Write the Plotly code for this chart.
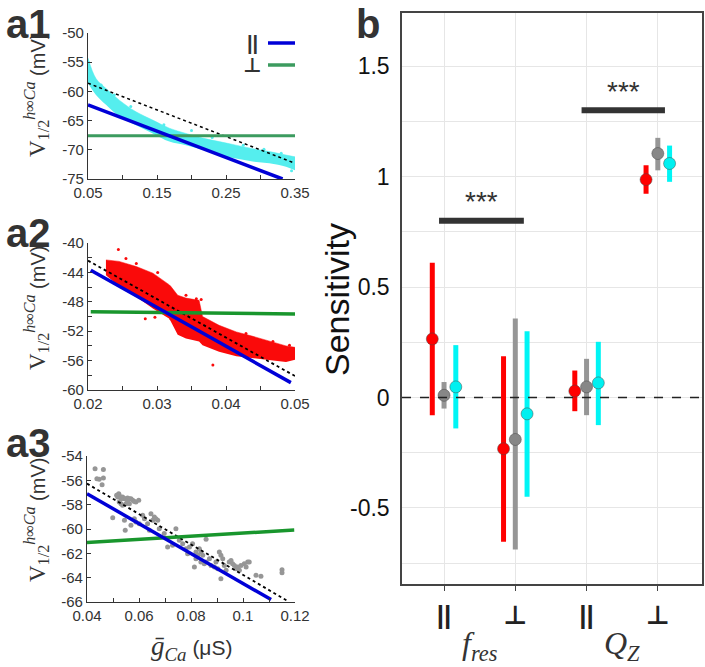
import plotly.graph_objects as go

W, H = 705, 667
def px(x): return x / W
def py(y): return 1 - y / H

# ================= DATA =================
# ---- a1 : cyan cloud (band envelope) ----
a1_band_x  = [0.05, 0.0616, 0.0761, 0.0954, 0.1196, 0.1437, 0.1679, 0.1920, 0.2162, 0.2403, 0.2645, 0.2886, 0.3128, 0.3370, 0.35]
a1_band_hi = [-54.3, -57.8, -59.5, -61.5, -63.5, -64.9, -66.3, -67.2, -68.0, -68.6, -69.2, -69.8, -70.3, -70.9, -71.2]
a1_band_lo = [-58.6, -60.6, -62.3, -64.3, -65.8, -67.2, -68.6, -69.2, -70.0, -70.9, -71.5, -72.0, -72.3, -72.9, -73.5]
a1_out_x = [0.0505, 0.0540, 0.0690, 0.0880, 0.1120, 0.1600, 0.2000, 0.2300, 0.2750, 0.3050, 0.3300, 0.3450]
a1_out_y = [-55.0, -57.6, -58.9, -60.6, -62.6, -65.7, -66.7, -67.9, -69.2, -69.9, -70.6, -73.6]
a1_par_x,  a1_par_y  = [0.05, 0.332], [-62.3, -75.0]
a1_perp_x, a1_perp_y = [0.05, 0.35], [-67.6, -67.6]
a1_ref_x,  a1_ref_y  = [0.05, 0.35], [-58.6, -72.3]

# ---- a2 : red cloud ----
a2_band_x  = [0.0226, 0.0245, 0.0270, 0.0294, 0.0318, 0.0320, 0.0330, 0.0342, 0.0361, 0.0366, 0.0390, 0.0415, 0.0439, 0.0463, 0.0487, 0.0500]
a2_band_hi = [-42.3, -42.5, -43.2, -44.1, -45.7, -45.9, -47.1, -47.5, -47.8, -50.0, -51.2, -52.1, -52.7, -53.4, -54.0, -54.2]
a2_band_lo = [-44.4, -45.9, -47.3, -48.9, -50.3, -50.7, -52.5, -53.0, -53.4, -53.9, -54.8, -55.4, -55.7, -56.0, -56.2, -55.9]
a2_out_x = [0.0244, 0.0255, 0.0270, 0.0283, 0.0297, 0.0301, 0.0320, 0.0342, 0.0357, 0.0364, 0.0381, 0.0429, 0.0468, 0.0492, 0.0233]
a2_out_y = [-40.9, -42.1, -42.8, -50.3, -50.1, -44.0, -50.3, -47.1, -47.6, -47.7, -56.6, -52.3, -53.4, -53.9, -43.0]
a2_par_x,  a2_par_y  = [0.0204, 0.0494], [-43.7, -59.0]
a2_perp_x, a2_perp_y = [0.0204, 0.05], [-49.35, -49.65]
a2_ref_x,  a2_ref_y  = [0.02, 0.05], [-42.4, -58.1]

# ---- a3 : gray points ----
a3_x = [0.0431, 0.0438, 0.0447, 0.0463, 0.0463, 0.0458, 0.0522, 0.0524, 0.0531, 0.0537,
        0.0544, 0.0550, 0.0556, 0.0563, 0.0569, 0.0576, 0.0582, 0.0588, 0.0599, 0.0531,
        0.0537, 0.0550, 0.0556, 0.0563, 0.0524, 0.0518, 0.0514, 0.0499, 0.0544, 0.0547,
        0.0569, 0.0582, 0.0588, 0.0601, 0.0614, 0.0621, 0.0633, 0.0646, 0.0653, 0.0659,
        0.0665, 0.0672, 0.0678, 0.0640, 0.0697, 0.0710, 0.0729, 0.0742, 0.0755, 0.0768,
        0.0781, 0.0787, 0.0794, 0.0806, 0.0819, 0.0826, 0.0832, 0.0838, 0.0845, 0.0858,
        0.0851, 0.0819, 0.0813, 0.0838, 0.0858, 0.0871, 0.0877, 0.0890, 0.0896, 0.0903,
        0.0909, 0.0915, 0.0922, 0.0915, 0.0928, 0.0935, 0.0947, 0.0954, 0.0960, 0.0967,
        0.0973, 0.0979, 0.0986, 0.0992, 0.1005, 0.1012, 0.1018, 0.1024, 0.1050, 0.1069,
        0.1150, 0.1150]
a3_y = [-55.04, -55.86, -55.92, -55.10, -55.81, -56.36, -57.10, -57.23, -57.51, -57.37,
        -57.51, -57.51, -57.45, -57.51, -57.51, -57.64, -57.73, -57.78, -57.64, -57.92,
        -58.05, -57.92, -57.78, -57.92, -57.78, -57.37, -57.23, -59.07, -59.29, -60.11,
        -59.70, -59.15, -59.42, -59.56, -58.88, -59.15, -59.56, -58.74, -59.29, -59.01,
        -59.15, -59.29, -59.97, -60.11, -60.38, -61.48, -61.34, -59.97, -60.93, -61.21,
        -61.62, -62.03, -61.48, -61.21, -61.89, -62.16, -61.62, -61.89, -62.16, -60.85,
        -62.85, -62.44, -63.12, -62.71, -62.71, -62.44, -62.99, -63.12, -62.71, -63.26,
        -61.89, -62.16, -62.44, -64.08, -62.99, -63.40, -62.71, -62.58, -62.85, -62.99,
        -63.26, -63.12, -63.40, -62.99, -62.85, -63.12, -62.71, -62.71, -63.81, -63.89,
        -63.34, -63.59]
a3_par_x,  a3_par_y  = [0.04, 0.1108], [-57.1, -65.8]
a3_perp_x, a3_perp_y = [0.04, 0.1197], [-61.1, -60.08]
a3_ref_x,  a3_ref_y  = [0.04, 0.1172], [-56.27, -65.92]

# ---- tick labels ----
a1_xticks = [0.05, 0.10, 0.15, 0.20, 0.25, 0.30, 0.35]
a1_xlabels = ['0.05', '', '0.15', '', '0.25', '', '0.35']
a1_yticks = [-75, -70, -65, -60, -55, -50]
a1_ylabels = ['-75', '-70', '-65', '-60', '-55', '-50']
a2_xticks = [0.02, 0.025, 0.03, 0.035, 0.04, 0.045, 0.05]
a2_xlabels = ['0.02', '', '0.03', '', '0.04', '', '0.05']
a2_yticks = [-60, -58, -56, -54, -52, -50, -48, -46, -44, -42, -40]
a2_ylabels = ['-60', '', '-56', '', '-52', '', '-48', '', '-44', '', '-40']
a3_xticks = [0.04, 0.05, 0.06, 0.07, 0.08, 0.09, 0.10, 0.11, 0.12]
a3_xlabels = ['0.04', '', '0.06', '', '0.08', '', '0.1', '', '0.12']
a3_yticks = [-66, -64, -62, -60, -58, -56, -54]
a3_ylabels = ['-66', '-64', '-62', '-60', '-58', '-56', '-54']

# ---- b : sensitivity ----
b_cats = [1, 2, 3, 4]
b_catlabels = ['<b>||</b>', '<b>⊥</b>', '<b>||</b>', '<b>⊥</b>']
b_groups = ['<i>f</i><sub><i>res</i></sub>', '<i>Q</i><sub><i>Z</i></sub>']
b_group_pos = [1.5, 3.5]
red_mean  = [0.265, -0.232, 0.029, 0.986]
red_hi    = [0.610, 0.187, 0.122, 1.051]
red_lo    = [-0.080, -0.653, -0.062, 0.922]
gray_mean = [0.010, -0.190, 0.048, 1.104]
gray_hi   = [0.070, 0.357, 0.175, 1.175]
gray_lo   = [-0.050, -0.688, -0.080, 1.028]
cyan_mean = [0.048, -0.074, 0.066, 1.059]
cyan_hi   = [0.237, 0.300, 0.252, 1.140]
cyan_lo   = [-0.140, -0.449, -0.125, 0.976]
b_yticks = [-0.75, -0.5, -0.25, 0, 0.25, 0.5, 0.75, 1, 1.25, 1.5]
b_ylabels = ['', '-0.5', '', '0', '', '0.5', '', '1', '', '1.5']
sig_x0 = [0.93, 2.93]
sig_x1 = [2.12, 4.10]
sig_y = [0.80, 1.30]
sig_text = ['***', '***']

# ================= FIGURE =================
BLUE = 'rgb(0,0,215)'
GREEN1 = 'rgb(60,155,95)'
GREEN2 = 'rgb(25,150,45)'
CYAN = 'rgb(85,238,238)'
RED = 'rgb(250,10,10)'
DARK = '#333333'

fig = go.Figure()

def band(x, hi, lo, color, xa, ya, shape):
    fig.add_trace(go.Scatter(x=x, y=lo, mode='lines', line=dict(width=0, color=color, shape=shape),
                             xaxis=xa, yaxis=ya, hoverinfo='skip', showlegend=False))
    fig.add_trace(go.Scatter(x=x, y=hi, mode='lines', line=dict(width=0.5, color=color, shape=shape),
                             fill='tonexty', fillcolor=color,
                             xaxis=xa, yaxis=ya, hoverinfo='skip', showlegend=False))

def line(x, y, color, width, xa, ya, dash='solid'):
    fig.add_trace(go.Scatter(x=x, y=y, mode='lines', line=dict(color=color, width=width, dash=dash),
                             xaxis=xa, yaxis=ya, showlegend=False))

# a1
band(a1_band_x, a1_band_hi, a1_band_lo, CYAN, 'x', 'y', 'spline')
fig.add_trace(go.Scatter(x=a1_out_x, y=a1_out_y, mode='markers', marker=dict(color=CYAN, size=3),
                         xaxis='x', yaxis='y', showlegend=False))
line(a1_ref_x, a1_ref_y, 'black', 1.5, 'x', 'y', 'dot')
line(a1_perp_x, a1_perp_y, GREEN1, 3, 'x', 'y')
line(a1_par_x, a1_par_y, BLUE, 3.5, 'x', 'y')
# a2
band(a2_band_x, a2_band_hi, a2_band_lo, RED, 'x2', 'y2', 'linear')
fig.add_trace(go.Scatter(x=a2_out_x, y=a2_out_y, mode='markers', marker=dict(color=RED, size=3),
                         xaxis='x2', yaxis='y2', showlegend=False))
line(a2_ref_x, a2_ref_y, 'black', 1.8, 'x2', 'y2', 'dot')
line(a2_perp_x, a2_perp_y, GREEN2, 3.5, 'x2', 'y2')
line(a2_par_x, a2_par_y, BLUE, 3.5, 'x2', 'y2')
# a3
fig.add_trace(go.Scatter(x=a3_x, y=a3_y, mode='markers', marker=dict(color='rgb(150,150,150)', size=5),
                         xaxis='x3', yaxis='y3', showlegend=False))
line(a3_ref_x, a3_ref_y, 'black', 1.8, 'x3', 'y3', 'dot')
line(a3_perp_x, a3_perp_y, GREEN2, 3.5, 'x3', 'y3')
line(a3_par_x, a3_par_y, BLUE, 3.5, 'x3', 'y3')

# b
series = [
    (red_mean, red_hi, red_lo, 'rgb(255,0,0)', 'rgb(255,0,0)', -0.165),
    (gray_mean, gray_hi, gray_lo, 'rgb(150,150,150)', 'rgb(135,135,135)', 0.0),
    (cyan_mean, cyan_hi, cyan_lo, 'rgb(0,245,245)', 'rgb(0,240,240)', 0.165),
]
for mean, hi, lo, ecol, mcol, off in series:
    fig.add_trace(go.Scatter(
        x=[c + off for c in b_cats], y=mean, mode='markers',
        marker=dict(color=mcol, size=12, line=dict(color='rgba(70,70,70,0.6)', width=0.8)),
        error_y=dict(type='data', symmetric=False,
                     array=[h - m for h, m in zip(hi, mean)],
                     arrayminus=[m - l for m, l in zip(mean, lo)],
                     thickness=5, width=0, color=ecol),
        xaxis='x4', yaxis='y4', showlegend=False))

TICKFONT_A = dict(family='Liberation Sans, Arial, sans-serif', size=15, color=DARK)
def a_axes(xdom, ydom, xr, yr, xt, xl, yt, yl):
    xa = dict(domain=xdom, range=xr, tickvals=xt, ticktext=xl, ticks='inside', ticklen=4,
              tickcolor=DARK, showline=True, linecolor=DARK, linewidth=1.3, showgrid=False,
              zeroline=False, tickfont=TICKFONT_A, fixedrange=True, automargin=False)
    ya = dict(domain=ydom, range=yr, tickvals=yt, ticktext=yl, ticks='inside', ticklen=4,
              tickcolor=DARK, showline=True, linecolor=DARK, linewidth=1.3, showgrid=False,
              zeroline=False, tickfont=TICKFONT_A, fixedrange=True, automargin=False)
    return xa, ya

xa1, ya1 = a_axes([px(88), px(295)], [py(179), py(33)], [0.05, 0.35], [-75, -50],
                  a1_xticks, a1_xlabels, a1_yticks, a1_ylabels)
xa2, ya2 = a_axes([px(88), px(295)], [py(390), py(243)], [0.02, 0.05], [-60, -40],
                  a2_xticks, a2_xlabels, a2_yticks, a2_ylabels)
xa3, ya3 = a_axes([px(87), px(295)], [py(602), py(456)], [0.04, 0.12], [-66, -54],
                  a3_xticks, a3_xlabels, a3_yticks, a3_ylabels)
xa1['anchor'] = 'y'; ya1['anchor'] = 'x'
xa2['anchor'] = 'y2'; ya2['anchor'] = 'x2'
xa3['anchor'] = 'y3'; ya3['anchor'] = 'x3'

xa4 = dict(domain=[px(402), px(702)], range=[0.41, 4.62], anchor='y4',
           tickvals=b_cats, ticktext=b_catlabels, ticks='outside', ticklen=5, tickcolor='#444',
           showline=True, mirror=True, linecolor='#444', linewidth=1.5,
           showgrid=True, gridcolor='#e6e6e6', gridwidth=1, zeroline=False,
           tickfont=dict(family='Liberation Sans, DejaVu Sans, sans-serif', size=26, color='#222'),
           ticklabelstandoff=2, fixedrange=True, automargin=False)
ya4 = dict(domain=[py(584), py(13)], range=[-0.844, 1.74], anchor='x4',
           tickvals=b_yticks, ticktext=b_ylabels, ticks='',
           showline=True, mirror=True, linecolor='#444', linewidth=1.5,
           showgrid=True, gridcolor='#e6e6e6', gridwidth=1, zeroline=False,
           tickfont=dict(family='Liberation Sans, Arial, sans-serif', size=23, color='#111'),
           ticklabelstandoff=6, fixedrange=True, automargin=False)

shapes = [
    dict(type='line', xref='x4 domain', yref='y4', x0=0, x1=1, y0=0, y1=0,
         line=dict(color='#222', width=1.5, dash='dash')),
    dict(type='line', xref='paper', yref='paper', x0=px(268), x1=px(295), y0=py(43), y1=py(43),
         line=dict(color=BLUE, width=3.5)),
    dict(type='line', xref='paper', yref='paper', x0=px(268), x1=px(295), y0=py(65), y1=py(65),
         line=dict(color=GREEN1, width=3.5)),
]
for x0, x1, y in zip(sig_x0, sig_x1, sig_y):
    shapes.append(dict(type='line', xref='x4', yref='y4', x0=x0, x1=x1, y0=y, y1=y,
                       line=dict(color=DARK, width=6)))

ann = []
def A(x, y, text, size, **kw):
    d = dict(xref='paper', yref='paper', x=px(x), y=py(y), text=text, showarrow=False,
             font=dict(size=size, color=kw.pop('color', DARK),
                       family=kw.pop('family', 'Liberation Sans, Arial, sans-serif')),
             xanchor='center', yanchor='middle')
    d.update(kw)
    ann.append(d)

A(29, 24, '<b>a1</b>', 40)
A(29, 233, '<b>a2</b>', 40)
A(29, 443, '<b>a3</b>', 40)
A(368, 24, '<b>b</b>', 40)

ytitle = ('<span style="font-family:\'Liberation Serif\',serif;font-size:23px">V<sub>1/2</sub>'
          '<sup><i>h</i>∞<i>Ca</i></sup></span><span style="font-size:20px"> (mV)</span>')
for yc in [95, 308, 520]:
    A(36, yc, ytitle, 20, textangle=-90)

A(191, 648, '<span style="font-family:\'Liberation Serif\',serif;font-size:27px"><i>ḡ</i>'
            '<sub><i>Ca</i></sub></span><span style="font-size:21px"> (μS)</span>', 21)

A(252, 43, '<b>||</b>', 20)
A(252, 65, '<b>⊥</b>', 20, family='DejaVu Sans, sans-serif')

A(337, 300, 'Sensitivity', 34, textangle=-90, color='#111')
for g, gx in zip(b_groups, b_group_pos):
    ann.append(dict(xref='x4', yref='paper', x=gx, y=py(645), text=g, showarrow=False,
                    font=dict(family='Liberation Serif, serif', size=32, color='#333'),
                    xanchor='center', yanchor='middle'))
for x0, x1, y, t in zip(sig_x0, sig_x1, sig_y, sig_text):
    ann.append(dict(xref='x4', yref='y4', x=(x0 + x1) / 2, y=y + 0.085, text=t, showarrow=False,
                    font=dict(family='Liberation Sans, Arial, sans-serif', size=28, color=DARK),
                    xanchor='center', yanchor='middle'))

fig.update_layout(
    width=W, height=H, margin=dict(l=0, r=0, t=0, b=0, pad=0, autoexpand=False),
    paper_bgcolor='white', plot_bgcolor='white',
    xaxis=xa1, yaxis=ya1, xaxis2=xa2, yaxis2=ya2, xaxis3=xa3, yaxis3=ya3,
    xaxis4=xa4, yaxis4=ya4, shapes=shapes, annotations=ann, showlegend=False,
    font=dict(family='Liberation Sans, Arial, sans-serif'),
)
fig.write_html('out.html', config={'displayModeBar': False},
               post_script="document.body.style.margin='0px';document.body.style.overflow='hidden';")
